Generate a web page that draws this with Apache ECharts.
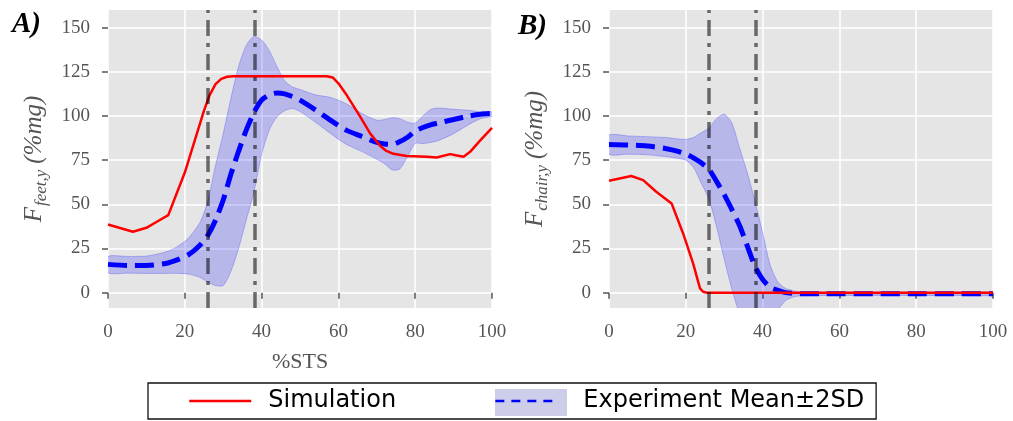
<!DOCTYPE html>
<html>
<head>
<meta charset="utf-8">
<script src="https://cdn.jsdelivr.net/npm/echarts@6/dist/echarts.min.js"></script>
<style>
  html, body { margin: 0; padding: 0; background: #fff; }
  #chart { width: 1013px; height: 421px; }
</style>
</head>
<body>
<div id="chart"></div>
<script>
// 刻度
const yTicks = [0, 25, 50, 75, 100, 125, 150];
const phaseLines = [26.1, 38.3];

// A) feet - simulation
const feetSimX = [0, 6.5, 10, 12.6, 15.7, 20, 25, 26.5, 28, 29.5, 31, 32.6, 45, 57, 58.5, 60, 62.2, 65.7, 68.3, 70.9, 72.5, 74.3, 77.8, 83, 85.6, 89.1, 90.9, 92.6, 94.3, 97, 100];
const feetSim = [38.6, 34.5, 36.7, 40, 43.9, 68, 103, 112, 118, 121, 122.2, 122.5, 122.5, 122.5, 121.8, 118.5, 111.7, 99.5, 90, 83, 80.2, 78.6, 77.3, 76.9, 76.5, 78.4, 77.6, 76.9, 79.7, 86.3, 93.3];

// A) feet - experiment
const feetExpX = [0, 5, 10, 15, 18, 21, 24, 26, 28, 30, 32, 34, 36, 38, 40, 42, 44, 46, 48, 50, 54, 58, 62, 66, 70, 72, 74, 76, 78, 80, 82, 84, 86, 90, 94, 97, 100];
const feetMean = [16, 15.4, 15.4, 16.5, 18.5, 21.5, 27, 32.5, 41, 52.4, 67, 80, 92, 102, 109, 112, 113, 112.5, 111, 109, 103.5, 97.5, 92, 88.5, 85, 84.2, 84, 85.5, 88, 91.5, 93.5, 95, 96, 98, 100, 101, 101.4];
const feetUpper = [20.4, 20.5, 20.7, 23, 26, 31, 40, 52, 72, 90, 110, 128, 140, 145, 143, 137, 128, 120, 116.5, 115, 112, 110.5, 107, 101.5, 97.6, 98, 99, 98.5, 96.5, 96, 100, 103.7, 104.5, 103.8, 103.2, 102.3, 102.3];
const feetLower = [11.3, 11, 10.9, 10.9, 10.9, 10.5, 8.5, 6, 4, 4, 12, 25, 41, 57, 78, 92, 99.5, 103, 104.2, 102.5, 96.5, 90, 84, 80, 75.5, 73, 69.5, 70, 77, 84.4, 84.4, 85, 86, 90, 95.2, 98.5, 99.9];

// B) chair - simulation
const chairSimX = [0, 5.8, 8.9, 12.3, 16.3, 19.3, 21.9, 23.7, 24.5, 25.4, 100];
const chairSim = [63.3, 66, 63.7, 57.1, 50.5, 33.5, 16.6, 2.4, 0.5, 0, 0];

// B) chair - experiment
const chairExpX = [0, 5, 10, 15, 18, 20, 22, 24, 26, 28, 30, 32, 34, 36, 38, 40, 42, 44, 46, 48, 50, 55, 60, 70, 80, 90, 100];
const chairMean = [83.9, 83.6, 83, 81.5, 80, 78.5, 76.3, 73.5, 69.8, 63, 55.5, 47, 38, 26.5, 15, 7.5, 3, 1.3, 0, -0.4, -0.6, -0.7, -0.7, -0.7, -0.7, -0.7, -0.7];
const chairUpper = [89.1, 88.7, 88.3, 87.8, 87, 86.8, 87.8, 90.5, 93, 98.5, 101, 96, 82, 68, 52, 34, 15.5, 6, 2.4, 1.1, 0.3, 0.2, 0.2, 0.2, 0.2, 0.2, 0.2];
const chairLower = [78.4, 78.4, 78, 76.9, 76, 75, 71, 62, 53, 37.3, 19, 2, -12, -20, -23, -20, -13, -9.5, -4.5, -2.5, -1.8, -1.6, -1.6, -1.6, -1.6, -1.6, -1.6];

const SIM = 'Simulation';
const EXP = 'Experiment Mean±2SD';
const grey = '#555';
const serif = 'Liberation Serif';

function zip(xs, ys) {
    return xs.map((x, i) => [x, ys[i]]);
}

function xAxisOf(idx, name) {
    return {
        gridIndex: idx, type: 'value', min: 0, max: 100, interval: 20, offset: 3,
        name: name, nameLocation: 'middle', nameGap: 40,
        nameTextStyle: { color: grey, fontFamily: serif, fontSize: 22 },
        axisLine: { show: false },
        axisTick: { show: true, length: 6, lineStyle: { color: grey, width: 1.5 } },
        axisLabel: { color: grey, fontFamily: serif, fontSize: 19, margin: 12 },
        splitLine: { show: true, lineStyle: { color: '#fff', width: 1.5 } }
    };
}

function yAxisOf(idx, sub) {
    return {
        gridIndex: idx, type: 'value', min: -8.7, max: 160, offset: 3,
        name: '{F|F}{s|' + sub + '}{p|(%mg)}', nameLocation: 'middle', nameGap: 55,
        nameTextStyle: {
            color: grey, fontFamily: serif, fontStyle: 'italic',
            rich: {
                F: { fontSize: 25, fontFamily: serif, fontStyle: 'italic', color: grey, lineHeight: 32, verticalAlign: 'middle' },
                s: { fontSize: 17, fontFamily: serif, fontStyle: 'italic', color: grey, lineHeight: 32, verticalAlign: 'bottom', padding: [0, 6, 0, 1] },
                p: { fontSize: 25, fontFamily: serif, fontStyle: 'italic', color: grey, lineHeight: 32, verticalAlign: 'middle' }
            }
        },
        axisLine: { show: false },
        axisTick: { show: true, length: 6, customValues: yTicks, lineStyle: { color: grey, width: 1.5 } },
        axisLabel: { color: grey, fontFamily: serif, fontSize: 19, margin: 15, customValues: yTicks },
        splitLine: { show: true, lineStyle: { color: '#fff', width: 1.5 } }
    };
}

// ±2SD 填充带，用 custom 多边形画（上沿 + 反向下沿）
function bandSeries(idx, xs, lower, upper) {
    return {
        type: 'custom', xAxisIndex: idx, yAxisIndex: idx, silent: true, z: 1,
        data: [0],
        renderItem: function (params, api) {
            const top = xs.map((x, i) => api.coord([x, upper[i]]));
            const bottom = xs.map((x, i) => api.coord([x, lower[i]])).reverse();
            const cs = params.coordSys;
            return {
                type: 'polygon',
                shape: { points: top.concat(bottom), smooth: 0.25, smoothConstraint: false },
                style: { fill: 'rgba(0,0,255,0.2)', stroke: 'rgba(0,0,255,0.22)', lineWidth: 1 },
                clipPath: { type: 'rect', shape: { x: cs.x, y: cs.y, width: cs.width, height: cs.height } }
            };
        }
    };
}

function meanSeries(idx, xs, ys) {
    return {
        name: EXP, type: 'line', xAxisIndex: idx, yAxisIndex: idx, symbol: 'none',
        data: zip(xs, ys), smooth: 0.25, color: '#0000ff', z: 3,
        lineStyle: { color: '#0000ff', width: 5, type: [19, 8], cap: 'butt' }
    };
}

function simSeries(idx, xs, ys) {
    return {
        name: SIM, type: 'line', xAxisIndex: idx, yAxisIndex: idx, symbol: 'none',
        data: zip(xs, ys), color: '#ff0000', z: 4,
        lineStyle: { color: '#ff0000', width: 2.5 },
        markLine: {
            silent: true, symbol: 'none', label: { show: false }, z: 6,
            lineStyle: { color: 'rgba(0,0,0,0.55)', width: 3.5, type: [16, 7, 4, 7] },
            data: phaseLines.map(v => ({ xAxis: v }))
        }
    };
}

const myChart = echarts.init(document.getElementById('chart'));
myChart.setOption({
    animation: false,
    grid: [
        { left: 108, top: 10, width: 384, height: 298, show: true, backgroundColor: '#e5e5e5', borderWidth: 0 },
        { left: 609, top: 10, width: 384, height: 298, show: true, backgroundColor: '#e5e5e5', borderWidth: 0 }
    ],
    xAxis: [xAxisOf(0, '%STS'), xAxisOf(1, '')],
    yAxis: [yAxisOf(0, 'feet,y'), yAxisOf(1, 'chair,y')],
    legend: {
        left: 148, top: 383, orient: 'horizontal',
        padding: [6, 12, 6, 40], itemGap: 98, itemWidth: 62, itemHeight: 14,
        borderColor: '#111', borderWidth: 1.3, borderRadius: 0, backgroundColor: 'transparent',
        itemStyle: { opacity: 0 },
        textStyle: { fontFamily: 'DejaVu Sans', fontSize: 24, color: '#000', padding: [0, 0, 0, 12] },
        data: [
            { name: SIM, lineStyle: { width: 2.5 }, itemStyle: { opacity: 0 } },
            { name: EXP, lineStyle: { width: 2.5, type: [9, 7] }, itemStyle: { opacity: 0 }, textStyle: { padding: [0, 0, 0, 21] } }
        ]
    },
    graphic: [
        { type: 'rect', z: 0, shape: { x: 495, y: 389, width: 72, height: 27 }, style: { fill: '#cdcdea' } },
        { type: 'text', left: 12, top: 10, style: { text: 'A)', font: 'italic bold 29px "Liberation Serif"', fill: '#000' } },
        { type: 'text', left: 518, top: 12, style: { text: 'B)', font: 'italic bold 29px "Liberation Serif"', fill: '#000' } }
    ],
    series: [
        bandSeries(0, feetExpX, feetLower, feetUpper),
        bandSeries(1, chairExpX, chairLower, chairUpper),
        meanSeries(0, feetExpX, feetMean),
        meanSeries(1, chairExpX, chairMean),
        simSeries(0, feetSimX, feetSim),
        simSeries(1, chairSimX, chairSim)
    ]
});
</script>
</body>
</html>
